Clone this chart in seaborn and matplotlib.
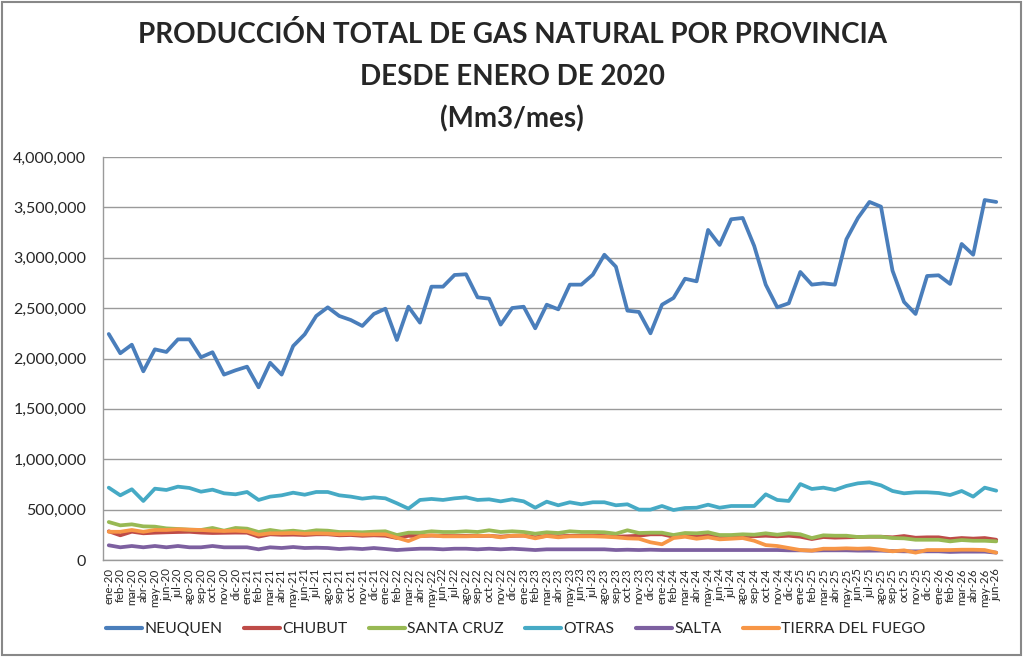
import pandas as pd
import matplotlib.pyplot as plt
import seaborn as sns
from matplotlib.ticker import FuncFormatter

# ----------------------------------------
# DATA (Mm3/mes)
# ----------------------------------------
meses = ["ene", "feb", "mar", "abr", "may", "jun", "jul", "ago", "sep", "oct", "nov", "dic"]
periodos = [f"{m}-{a}" for a in range(20, 27) for m in meses][:78]

neuquen = [2243000, 2052000, 2137000, 1873000, 2091000, 2065000, 2190000, 2190000, 2012000, 2062000, 1840000, 1883000,
           1919000, 1714000, 1958000, 1840000, 2124000, 2240000, 2422000, 2508000, 2422000, 2382000, 2323000, 2442000,
           2494000, 2184000, 2514000, 2356000, 2713000, 2713000, 2829000, 2836000, 2607000, 2594000, 2336000, 2501000,
           2514000, 2300000, 2534000, 2488000, 2733000, 2733000, 2832000, 3030000, 2911000, 2475000, 2462000, 2250000,
           2534000, 2601000, 2792000, 2766000, 3276000, 3127000, 3382000, 3395000, 3117000, 2733000, 2508000, 2548000,
           2859000, 2733000, 2746000, 2733000, 3183000, 3395000, 3554000, 3507000, 2872000, 2561000, 2442000, 2819000,
           2826000, 2740000, 3137000, 3030000, 3573000, 3554000]

chubut = [285000, 245000, 281000, 265000, 271000, 275000, 278000, 280000, 272000, 268000, 270000, 272000,
          271000, 232000, 255000, 250000, 252000, 248000, 255000, 255000, 245000, 248000, 240000, 245000,
          241000, 218000, 240000, 238000, 242000, 240000, 238000, 240000, 238000, 240000, 232000, 240000,
          242000, 225000, 240000, 235000, 240000, 240000, 242000, 238000, 232000, 235000, 241000, 255000,
          255000, 231000, 248000, 231000, 245000, 238000, 238000, 240000, 236000, 241000, 235000, 241000,
          231000, 208000, 228000, 222000, 225000, 228000, 231000, 231000, 225000, 238000, 221000, 225000,
          225000, 208000, 218000, 212000, 218000, 201000]

santa_cruz = [377000, 344000, 354000, 334000, 331000, 314000, 308000, 301000, 298000, 318000, 291000, 318000,
              311000, 278000, 298000, 281000, 291000, 278000, 295000, 291000, 278000, 278000, 275000, 281000,
              285000, 248000, 271000, 271000, 285000, 278000, 278000, 285000, 278000, 295000, 278000, 285000,
              278000, 261000, 275000, 268000, 285000, 278000, 278000, 275000, 261000, 295000, 268000, 271000,
              271000, 248000, 268000, 265000, 275000, 248000, 248000, 255000, 251000, 265000, 251000, 265000,
              255000, 218000, 245000, 241000, 241000, 228000, 231000, 231000, 218000, 215000, 201000, 201000,
              201000, 185000, 198000, 191000, 191000, 185000]

otras = [718000, 642000, 702000, 586000, 708000, 695000, 728000, 715000, 678000, 698000, 662000, 652000,
         675000, 596000, 629000, 642000, 668000, 648000, 675000, 675000, 642000, 629000, 609000, 622000,
         612000, 563000, 510000, 596000, 606000, 596000, 612000, 622000, 596000, 602000, 582000, 602000,
         582000, 519000, 579000, 543000, 573000, 553000, 573000, 573000, 543000, 553000, 500000, 500000,
         536000, 496000, 516000, 519000, 549000, 519000, 536000, 536000, 536000, 652000, 596000, 586000,
         754000, 705000, 718000, 695000, 735000, 761000, 771000, 741000, 685000, 662000, 672000, 672000,
         665000, 645000, 685000, 629000, 718000, 688000]

salta = [146000, 126000, 139000, 126000, 139000, 126000, 139000, 126000, 126000, 139000, 126000, 126000,
         126000, 106000, 126000, 119000, 129000, 119000, 122000, 119000, 109000, 116000, 109000, 119000,
         109000, 99000, 106000, 112000, 112000, 106000, 112000, 112000, 106000, 112000, 106000, 112000,
         106000, 99000, 106000, 106000, 106000, 106000, 106000, 106000, 99000, 102000, 99000, 102000,
         99000, 99000, 99000, 99000, 99000, 99000, 99000, 99000, 99000, 99000, 99000, 96000,
         96000, 93000, 96000, 96000, 96000, 93000, 93000, 93000, 89000, 86000, 86000, 86000,
         86000, 80000, 83000, 83000, 83000, 73000]

tierra_del_fuego = [280000, 280000, 298000, 280000, 298000, 298000, 305000, 301000, 298000, 291000, 288000, 291000,
                    285000, 251000, 265000, 265000, 268000, 261000, 265000, 262000, 255000, 258000, 252000, 255000,
                    255000, 221000, 188000, 235000, 245000, 235000, 235000, 235000, 238000, 241000, 225000, 241000,
                    241000, 215000, 238000, 225000, 235000, 235000, 235000, 231000, 225000, 215000, 211000, 176000,
                    156000, 218000, 231000, 211000, 225000, 205000, 211000, 218000, 191000, 148000, 139000, 119000,
                    99000, 93000, 112000, 112000, 116000, 112000, 116000, 102000, 86000, 96000, 73000, 99000,
                    99000, 99000, 102000, 102000, 99000, 73000]

provincias = ["NEUQUEN", "CHUBUT", "SANTA CRUZ", "OTRAS", "SALTA", "TIERRA DEL FUEGO"]
colores = ["#4A7EBB", "#BE4B48", "#98B954", "#46AAC5", "#7D60A0", "#F79646"]
series = [neuquen, chubut, santa_cruz, otras, salta, tierra_del_fuego]

df = pd.concat([
    pd.DataFrame({"idx": range(len(periodos)), "Provincia": p, "Mm3": v})
    for p, v in zip(provincias, series)
])

# ----------------------------------------
# PLOT
# ----------------------------------------
sns.set_style("white")
plt.rcParams['font.family'] = ['Lato', 'DejaVu Sans']

fig = plt.figure(figsize=(10.23, 6.57), dpi=100)
ax = fig.add_axes([103 / 1023, 1 - 560 / 657, 899 / 1023, 403 / 657])

sns.lineplot(data=df, x="idx", y="Mm3", hue="Provincia", hue_order=provincias,
             palette=colores, linewidth=2.7, ax=ax, legend=True)

ax.set_xlim(-0.5, len(periodos) - 0.5)
ax.set_ylim(0, 4000000)
ax.set_yticks(range(0, 4000001, 500000))
ax.yaxis.set_major_formatter(FuncFormatter(lambda v, _: f"{int(v):,}"))
ax.set_xticks(range(len(periodos)))
ax.set_xticklabels(periodos, rotation=90, fontsize=8.2)
ax.tick_params(axis="y", labelsize=11.5, length=0, pad=12)
ax.tick_params(axis="x", length=0, pad=6)
ax.set_xlabel("")
ax.set_ylabel("")

ax.grid(axis="y", color="#9a9a9a", linewidth=1)
ax.set_axisbelow(True)
for s in ["top", "right"]:
    ax.spines[s].set_visible(False)
for s in ["left", "bottom"]:
    ax.spines[s].set_color("#9a9a9a")
    ax.spines[s].set_linewidth(1)

# legend at the bottom, one row
leg = ax.legend(loc="center", bbox_to_anchor=(516 / 1023, 1 - 629 / 657),
                bbox_transform=fig.transFigure, ncol=6, frameon=False,
                handlelength=2.3, handletextpad=0.15, columnspacing=1.35, fontsize=11.3)
for line in leg.get_lines():
    line.set_linewidth(3)

fig.text(512 / 1023, 1 - 77 / 657,
         "PRODUCCIÓN TOTAL DE GAS NATURAL POR PROVINCIA\nDESDE ENERO DE 2020\n(Mm3/mes)",
         ha="center", va="center", fontsize=20, fontweight="bold", linespacing=1.72)

# border around the chart
fig.patches.append(plt.Rectangle((0.002, 0.003), 0.996, 0.994, transform=fig.transFigure,
                                 fill=False, edgecolor="#888888", linewidth=1.5))

plt.savefig("out.png", dpi=100)
